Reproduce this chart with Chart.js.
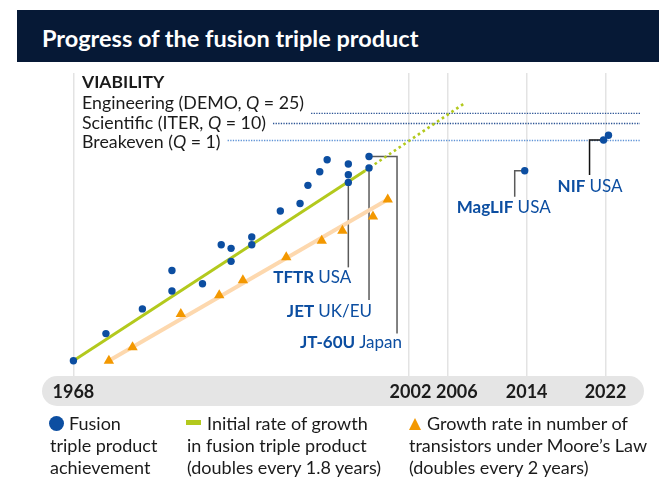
<!DOCTYPE html>
<html>
<head>
<meta charset="utf-8">
<script src="https://cdn.jsdelivr.net/npm/chart.js@4.4.1/dist/chart.umd.min.js"></script>
<style>
  html, body { margin: 0; padding: 0; background: #fff; }
  body { width: 659px; height: 477px; position: relative; overflow: hidden; font-family: Lato, "Open Sans", sans-serif; }
  #chart { position: absolute; left: 0; top: 0; }
  .title { position: absolute; left: 17px; top: 10px; width: 642px; height: 52px; background: #061936; }
  .title span { position: absolute; left: 25px; top: 13px; color: #fff; font-weight: bold; font-size: 23.5px; line-height: 30px; }
  .leg { position: absolute; top: 412px; font-size: 18px; line-height: 22px; color: #1b1b1b; white-space: nowrap; }
  .dot { display: inline-block; width: 15px; height: 15px; border-radius: 50%; background: #0c4ea1; margin: 0 5px 0 -1px; vertical-align: -1px; }
  .dash { display: inline-block; width: 15px; height: 5px; background: #b3c91d; margin: 0 6px 0 -1px; vertical-align: 5px; }
  .tri { display: inline-block; width: 0; height: 0; border-left: 6.5px solid transparent; border-right: 6.5px solid transparent; border-bottom: 12px solid #f39800; margin-right: 6px; vertical-align: 0px; }
</style>
</head>
<body>
<canvas id="chart" width="659" height="477"></canvas>
<div class="title"><span>Progress of the fusion triple product</span></div>
<div class="leg" style="left:50px"><span class="dot"></span>Fusion<br>triple product<br>achievement</div>
<div class="leg" style="left:187px"><span class="dash"></span>Initial rate of growth<br>in fusion triple product<br>(doubles every 1.8 years)</div>
<div class="leg" style="left:409px"><span class="tri"></span>Growth rate in number of<br>transistors under Moore’s Law<br>(doubles every 2 years)</div>
<script>
// x = year, y = triple product (log scale)
const tickYears = [1968, 2002, 2006, 2014, 2022];

const fusionYears = [1968, 1971.3, 1975, 1978, 1978, 1981.1, 1983, 1984, 1984, 1986.1, 1986.1, 1989, 1991, 1991.8,
    1993, 1993.75, 1995.9, 1995.9, 1995.9, 1998, 1998, 2013.8, 2021.8, 2022.3];
const fusionValues = [1.6e15, 8.3e15, 3.7e16, 1.1e17, 3.8e17, 1.7e17, 1.8e18, 1.45e18, 6.6e17, 2.9e18, 1.8e18, 1.4e19, 2.2e19, 6.6e19,
    1.5e20, 3.1e20, 2.4e20, 1.26e20, 7.9e19, 3.8e20, 1.9e20, 1.6e20, 1.03e21, 1.37e21];

const mooreYears = [1971.6, 1974.0, 1978.9, 1982.8, 1985.2, 1989.6, 1993.2, 1995.3, 1998.4, 1999.9];
const mooreValues = [1.6e15, 3.6e15, 2.7e16, 8.5e16, 2.1e17, 8.5e17, 2.3e18, 4.2e18, 1.0e19, 2.8e19];

const growthYears = [1968, 1997.6];
const growthValues = [1.6e15, 1.6e20];
const projectedYears = [1997.6, 2007.8];
const projectedValues = [1.6e20, 1.0e22];
const mooreLineYears = [1971.6, 1999.9];
const mooreLineValues = [1.6e15, 2.8e19];

const viabilityLabels = [['Engineering (DEMO, ', 'Q', ' = 25)'], ['Scientific (ITER, ', 'Q', ' = 10)'], ['Breakeven (', 'Q', ' = 1)']];
const viabilityValues = [5.2e21, 2.8e21, 1.0e21];

const calloutNames = ['TFTR', 'JET', 'JT-60U', 'MagLIF', 'NIF'];
const calloutPlaces = ['USA', 'UK/EU', 'Japan', 'USA', 'USA'];
const calloutPoints = [18, 20, 19, 21, 22];

const toXY = (xs, ys) => xs.map((x, i) => ({ x: x, y: ys[i] }));

const BLUE = '#0c4ea1';
const FONT = 'Lato, "Open Sans", sans-serif';

function drawRich(ctx, parts, x, y, fonts) {
    parts.forEach((p, i) => {
        ctx.font = fonts[i];
        ctx.fillText(p, x, y);
        x += ctx.measureText(p).width;
    });
    return x;
}

const decorPlugin = {
    id: 'decor',
    beforeDraw(chart) {
        const ctx = chart.ctx;
        // grey axis band
        ctx.save();
        ctx.fillStyle = '#e5e5e5';
        ctx.beginPath();
        ctx.roundRect(42, chart.chartArea.bottom, 602, 30, 15);
        ctx.fill();
        ctx.restore();
    },
    afterDraw(chart) {
        // year labels on the band (2006 nudged right so it clears 2002)
        const ctx = chart.ctx, xs = chart.scales.x;
        ctx.save();
        ctx.fillStyle = '#1b1b1b';
        ctx.font = 'bold 18px ' + FONT;
        ctx.textAlign = 'center';
        ctx.textBaseline = 'middle';
        xs.ticks.forEach(t => {
            const nudge = t.value === 2006 ? 9 : (t.value === 2002 ? 2 : 0);
            ctx.fillText(String(t.value), xs.getPixelForValue(t.value) + nudge, chart.chartArea.bottom + 16);
        });
        ctx.restore();
    },
    beforeDatasetsDraw(chart) {
        const ctx = chart.ctx;
        const xs = chart.scales.x, ys = chart.scales.y;
        const right = chart.chartArea.right;
        ctx.save();
        // viability block
        ctx.fillStyle = '#1b1b1b';
        ctx.textBaseline = 'middle';
        ctx.font = 'bold 17.5px ' + FONT;
        ctx.fillText('VIABILITY', 82, 82);
        const lineColors = ['#2b5394', '#2b5394', '#5f93d6'];
        viabilityLabels.forEach((parts, i) => {
            const ty = 103.5 + i * 19.5;
            const f = '17.8px ' + FONT;
            const end = drawRich(ctx, parts, 82, ty, [f, 'italic ' + f, f]);
            const vy = ys.getPixelForValue(viabilityValues[i]);
            ctx.strokeStyle = lineColors[i];
            ctx.lineWidth = 1.3;
            ctx.setLineDash([1.3, 1.3]);
            ctx.beginPath();
            ctx.moveTo(end + 7, vy);
            ctx.lineTo(right, vy);
            ctx.stroke();
        });
        ctx.setLineDash([]);

        // callout leaders
        const pt = k => ({ x: xs.getPixelForValue(fusionYears[calloutPoints[k]]), y: ys.getPixelForValue(fusionValues[calloutPoints[k]]) });
        const leaders = [
            { c: '#5a5a5a', path: p => [[p.x, p.y], [p.x, p.y + 85]], label: p => [p.x + 3, p.y + 95, 'right'] },
            { c: '#5a5a5a', path: p => [[p.x, p.y], [p.x, p.y + 132]], label: p => [p.x + 3, p.y + 144, 'right'] },
            { c: '#5a5a5a', path: p => [[p.x, p.y], [p.x + 28, p.y], [p.x + 28, p.y + 177]], label: p => [p.x + 33, p.y + 186, 'right'] },
            { c: '#5a5a5a', path: p => [[p.x, p.y], [p.x - 10, p.y], [p.x - 10, p.y + 26]], label: p => [p.x - 68, p.y + 37, 'left'] },
            { c: '#111111', path: p => [[p.x, p.y], [p.x - 14, p.y], [p.x - 14, p.y + 35]], label: p => [p.x - 46, p.y + 47, 'left'] }
        ];
        leaders.forEach((l, k) => {
            const p = pt(k);
            ctx.strokeStyle = l.c;
            ctx.lineWidth = 1.5;
            ctx.beginPath();
            l.path(p).forEach((q, j) => j ? ctx.lineTo(q[0], q[1]) : ctx.moveTo(q[0], q[1]));
            ctx.stroke();

            const [lx, ly, align] = l.label(p);
            const bf = 'bold 17px ' + FONT, rf = '17px ' + FONT;
            ctx.font = bf;
            const w1 = ctx.measureText(calloutNames[k] + ' ').width;
            ctx.font = rf;
            const w2 = ctx.measureText(calloutPlaces[k]).width;
            const x0 = align === 'right' ? lx - w1 - w2 : lx;
            ctx.fillStyle = BLUE;
            drawRich(ctx, [calloutNames[k] + ' ', calloutPlaces[k]], x0, ly, [bf, rf]);
        });
        ctx.restore();
    }
};

new Chart(document.getElementById('chart'), {
    type: 'scatter',
    data: {
        datasets: [
            { data: toXY(fusionYears, fusionValues), backgroundColor: BLUE, borderWidth: 0, pointRadius: 3.7 },
            { data: toXY(mooreYears, mooreValues), backgroundColor: '#f39800', borderWidth: 0, pointStyle: 'triangle', pointRadius: 6 },
            { data: toXY(growthYears, growthValues), showLine: true, borderColor: '#b3c91d', borderWidth: 3, pointRadius: 0 },
            { data: toXY(projectedYears, projectedValues), showLine: true, borderColor: '#b3c91d', borderWidth: 2.6, borderDash: [2.6, 3.2], pointRadius: 0 },
            { data: toXY(mooreLineYears, mooreLineValues), showLine: true, borderColor: '#fdd8ae', borderWidth: 4, pointRadius: 0 }
        ]
    },
    options: {
        responsive: false,
        animation: false,
        layout: { padding: { left: 34, right: 19, top: 73, bottom: 71 } },
        plugins: { legend: { display: false }, tooltip: { enabled: false } },
        scales: {
            x: {
                type: 'linear',
                min: 1964,
                max: 2025.5,
                afterBuildTicks: s => { s.ticks = tickYears.map(v => ({ value: v })); },
                afterFit: s => { s.height = 30; },
                grid: { color: '#e3e3e3', lineWidth: 1.5, drawTicks: false },
                border: { display: false },
                ticks: { display: false }
            },
            y: {
                type: 'logarithmic',
                min: 6.35e14,
                max: 5.97e22,
                display: false
            }
        }
    },
    plugins: [decorPlugin]
});
</script>
</body>
</html>
